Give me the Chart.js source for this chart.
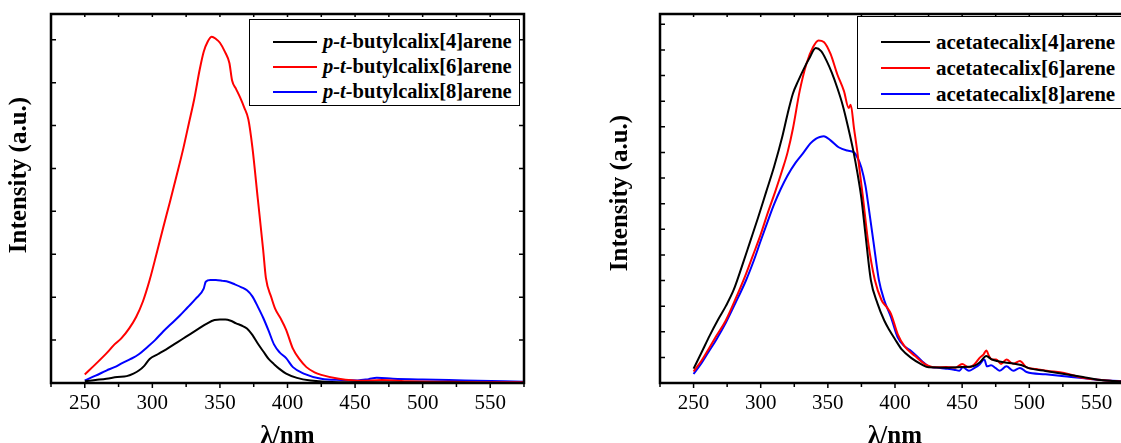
<!DOCTYPE html>
<html>
<head>
<meta charset="utf-8">
<title>Fluorescence spectra of calixarenes</title>
<script src="https://cdn.jsdelivr.net/npm/chart.js@4/dist/chart.umd.min.js"></script>
<style>
  html, body { margin: 0; padding: 0; background: #fff; width: 1121px; height: 443px; overflow: hidden; }
  .panel { position: absolute; top: 0; height: 443px; overflow: hidden; }
  #leftPanel { left: 0; width: 560px; }
  #rightPanel { left: 600px; width: 545px; }
  .legend {
    position: absolute; box-sizing: border-box; border: 1.5px solid #000; background: #fff;
    font-family: "Liberation Serif", "Times New Roman", serif; font-weight: bold; color: #000;
  }
  .legend .row { display: flex; align-items: center; white-space: nowrap; }
  .legend .swatch { display: inline-block; height: 2px; margin-right: 6px; }
  #leftLegend { left: 249px; top: 19px; width: 271px; height: 87px; padding: 9px 0 0 23px; font-size: 20.5px; line-height: 25px; }
  #rightLegend { left: 257px; top: 16px; width: 270px; height: 93px; padding: 12px 0 0 23px; font-size: 21px; line-height: 26px; }
  #leftLegend .swatch { width: 44px; }
  #rightLegend .swatch { width: 49px; }
</style>
</head>
<body>
<div class="panel" id="leftPanel">
  <canvas id="leftChart" width="560" height="443"></canvas>
  <div class="legend" id="leftLegend"></div>
</div>
<div class="panel" id="rightPanel">
  <canvas id="rightChart" width="545" height="443"></canvas>
  <div class="legend" id="rightLegend"></div>
</div>
<script>
// x axis (wavelength, nm) - shared by both panels
const xMin = 225, xMax = 575, xStep = 25;
// y axis has no labels, ticks every unit
const yStep = 1;
const leftYMax = 8.6;
const rightYMax = 14.4;

const seriesColors = ['#000000', '#ff0000', '#0000ff'];
const leftLabels = ['p-t-butylcalix[4]arene', 'p-t-butylcalix[6]arene', 'p-t-butylcalix[8]arene'];
const rightLabels = ['acetatecalix[4]arene', 'acetatecalix[6]arene', 'acetatecalix[8]arene'];

// left panel: p-t-butylcalix[n]arene
const butyl4Nm = [250, 258, 266, 274, 281, 286, 290, 294, 298, 304, 310, 316, 322, 328, 334, 340, 346, 350, 354, 358,
  362, 366, 370, 374, 378, 382, 386, 390, 394, 399, 407, 417, 438, 470, 520, 575];
const butyl4Int = [0.04, 0.07, 0.10, 0.14, 0.16, 0.22, 0.29, 0.40, 0.56, 0.67, 0.78, 0.90, 1.02, 1.14, 1.26, 1.38, 1.47, 1.48, 1.48, 1.45,
  1.39, 1.34, 1.27, 1.12, 0.92, 0.74, 0.56, 0.44, 0.33, 0.22, 0.12, 0.06, 0.02, 0.02, 0.01, 0.0];

const butyl6Nm = [250, 258, 266, 272, 277, 283, 288, 293, 298, 303, 308, 313, 318, 323, 327, 331, 335, 338, 341, 344,
  347, 350, 354, 357, 359, 362, 365, 368, 371, 374, 378, 382, 384, 388, 391, 395, 399, 404, 409, 414,
  420, 425, 438, 455, 470, 490, 520, 550, 575];
const butyl6Int = [0.20, 0.44, 0.69, 0.90, 1.04, 1.28, 1.54, 1.90, 2.40, 3.00, 3.62, 4.22, 4.84, 5.48, 6.05, 6.62, 7.30, 7.72, 7.96, 8.07,
  8.02, 7.93, 7.70, 7.46, 7.05, 6.85, 6.65, 6.42, 6.15, 5.50, 4.30, 3.10, 2.45, 2.00, 1.72, 1.50, 1.24, 0.80, 0.55, 0.37,
  0.25, 0.19, 0.10, 0.05, 0.07, 0.04, 0.03, 0.02, 0.02];

const butyl8Nm = [250, 258, 266, 272, 278, 284, 290, 296, 302, 308, 314, 320, 326, 332, 338, 339.5, 343, 347, 352, 356,
  361, 366, 370, 374, 378, 382, 386, 390, 394, 399, 404, 412, 425, 440, 452, 460, 466, 478, 500, 531, 575];
const butyl8Int = [0.06, 0.17, 0.29, 0.37, 0.47, 0.56, 0.67, 0.83, 1.00, 1.20, 1.38, 1.56, 1.76, 1.96, 2.20, 2.36, 2.40, 2.40, 2.38, 2.36,
  2.30, 2.23, 2.16, 2.02, 1.78, 1.52, 1.22, 0.90, 0.72, 0.58, 0.37, 0.22, 0.10, 0.07, 0.06, 0.09, 0.12, 0.10, 0.08, 0.06, 0.03];

// right panel: acetatecalix[n]arene
const acet4Nm = [250, 256, 262, 268, 274, 280, 286, 292, 298, 304, 310, 316, 320, 324, 328, 332, 336, 341, 345, 349,
  353, 357, 361, 365, 369, 372, 375, 378, 382, 387, 392, 396, 400, 405, 412, 420, 425, 440, 450, 458,
  463, 468, 472, 476, 482, 488, 494, 501, 512, 526, 540, 551, 563, 575];
const acet4Int = [0.56, 1.20, 1.85, 2.45, 3.00, 3.65, 4.55, 5.50, 6.45, 7.45, 8.45, 9.60, 10.50, 11.30, 11.80, 12.25, 12.65, 13.07, 12.95, 12.58,
  12.10, 11.52, 10.85, 10.00, 9.05, 8.20, 7.20, 5.80, 4.02, 3.10, 2.44, 2.05, 1.71, 1.31, 0.98, 0.72, 0.61, 0.60, 0.62, 0.65,
  0.80, 1.05, 0.92, 0.86, 0.80, 0.76, 0.70, 0.56, 0.47, 0.35, 0.23, 0.13, 0.08, 0.04];

const acet6Nm = [250, 256, 261, 267, 274, 281, 289, 294, 300, 305, 311, 316, 320, 324, 329, 334, 339, 343, 347, 352,
  357, 362, 365.5, 367, 369.5, 372, 376, 380, 385, 390, 394, 397, 402, 407, 415, 422, 430, 438, 445, 450,
  455, 459, 463, 466, 468, 470, 472, 475.5, 479, 483, 488, 493, 498, 505, 513, 526, 541, 555, 575];
const acet6Int = [0.45, 0.88, 1.31, 1.84, 2.44, 3.25, 4.25, 4.95, 5.80, 6.60, 7.50, 8.30, 9.00, 9.93, 11.39, 12.45, 13.11, 13.37, 13.31, 12.84,
  12.05, 11.39, 10.73, 10.86, 9.93, 9.00, 7.30, 5.50, 4.02, 3.23, 2.95, 2.70, 1.91, 1.44, 1.05, 0.75, 0.61, 0.62, 0.60, 0.74,
  0.61, 0.72, 0.98, 1.12, 1.27, 1.05, 0.92, 0.92, 0.74, 0.92, 0.75, 0.86, 0.61, 0.55, 0.48, 0.39, 0.19, 0.11, 0.04];

const acet8Nm = [250, 256, 261, 267, 274, 281, 289, 295, 300, 305, 310, 315, 320, 326, 332, 337, 341, 344, 347, 352,
  358, 364.5, 369.5, 372, 375, 378, 380, 384, 388, 392, 397, 402, 407, 412, 420, 425, 431, 438, 444, 448,
  450.5, 455, 459, 463, 466.5, 468.5, 471.5, 475, 478, 483, 488, 493, 498, 512, 526, 551, 575];
const acet8Int = [0.35, 0.78, 1.20, 1.70, 2.35, 3.10, 4.00, 4.80, 5.55, 6.28, 6.98, 7.58, 8.10, 8.60, 9.00, 9.35, 9.53, 9.60, 9.63, 9.47,
  9.20, 9.07, 9.00, 8.80, 8.40, 7.70, 7.00, 5.50, 4.02, 3.23, 2.57, 1.78, 1.44, 1.25, 0.86, 0.65, 0.60, 0.56, 0.52, 0.48,
  0.61, 0.48, 0.58, 0.72, 0.92, 0.65, 0.69, 0.58, 0.48, 0.65, 0.48, 0.59, 0.43, 0.34, 0.26, 0.13, 0.05];

const serif = '"Liberation Serif", "Times New Roman", serif';

function toPoints(xs, ys) {
  return xs.map((x, i) => ({ x: x, y: ys[i] }));
}

// box frame, inner/outer tick marks and the rotated y title
const framePlugin = {
  id: 'frame',
  afterDatasetsDraw(chart, args, opts) {
    const { ctx, chartArea: a, scales: { x, y } } = chart;
    ctx.save();
    ctx.strokeStyle = '#000';
    ctx.lineWidth = 1.5;
    ctx.beginPath();
    for (let v = xMin; v <= xMax; v += xStep) {
      const px = x.getPixelForValue(v);
      ctx.moveTo(px, a.bottom);
      ctx.lineTo(px, a.bottom + (v % 50 === 0 ? 5 : 4));
      ctx.moveTo(px, a.top);
      ctx.lineTo(px, a.top + 3);
    }
    for (let v = yStep; v <= opts.yMax; v += yStep) {
      const py = y.getPixelForValue(v);
      ctx.moveTo(a.left, py);
      ctx.lineTo(a.left + 5, py);
      ctx.moveTo(a.right, py);
      ctx.lineTo(a.right - 5, py);
    }
    ctx.stroke();
    ctx.lineWidth = 2.5;
    ctx.strokeRect(a.left, a.top, a.right - a.left, a.bottom - a.top);

    ctx.translate(opts.titleX, opts.titleY);
    ctx.rotate(-Math.PI / 2);
    ctx.fillStyle = '#000';
    ctx.font = 'bold 25px ' + serif;
    ctx.textAlign = 'center';
    ctx.textBaseline = 'middle';
    ctx.fillText(opts.title, 0, 0);
    ctx.restore();
  }
};

function makeChart(canvasId, labels, xsList, ysList, yMax, pad, titlePos) {
  return new Chart(document.getElementById(canvasId), {
    type: 'line',
    data: {
      datasets: labels.map((label, i) => ({
        label: label,
        data: toPoints(xsList[i], ysList[i]),
        borderColor: seriesColors[i],
        backgroundColor: seriesColors[i],
        borderWidth: 2,
        pointRadius: 0,
        cubicInterpolationMode: 'monotone',
        fill: false
      }))
    },
    options: {
      responsive: false,
      animation: false,
      devicePixelRatio: 1,
      layout: { padding: pad },
      plugins: {
        legend: { display: false },
        tooltip: { enabled: false },
        frame: { yMax: yMax, title: 'Intensity (a.u.)', titleX: titlePos[0], titleY: titlePos[1] }
      },
      scales: {
        x: {
          type: 'linear',
          min: xMin,
          max: xMax,
          grid: { display: false, drawTicks: false },
          border: { display: false },
          ticks: {
            stepSize: xStep,
            autoSkip: false,
            maxRotation: 0,
            padding: 8,
            color: '#000',
            font: { family: serif, size: 21 },
            callback: v => (Math.round(v) % 50 === 0 ? String(Math.round(v)) : '')
          },
          title: {
            display: true,
            text: 'λ/nm',
            color: '#000',
            padding: 0,
            font: { family: serif, size: 25, weight: 'bold', lineHeight: 0.95 }
          }
        },
        y: { display: false, min: 0, max: yMax }
      }
    },
    plugins: [framePlugin]
  });
}

function buildLegend(elId, labels) {
  let html = '';
  labels.forEach((label, i) => {
    const text = label.replace(/^p-t-/, '<i>p-t-</i>');
    html += `<div class="row"><span class="swatch" style="background:${seriesColors[i]}"></span>${text}</div>`;
  });
  document.getElementById(elId).innerHTML = html;
}

makeChart('leftChart', leftLabels,
  [butyl4Nm, butyl6Nm, butyl8Nm], [butyl4Int, butyl6Int, butyl8Int],
  leftYMax, { left: 51, right: 36, top: 14, bottom: -4.95 }, [20, 175]);
makeChart('rightChart', rightLabels,
  [acet4Nm, acet6Nm, acet8Nm], [acet4Int, acet6Int, acet8Int],
  rightYMax, { left: 60, right: 15, top: 14, bottom: -4.95 }, [21, 193]);

buildLegend('leftLegend', leftLabels);
buildLegend('rightLegend', rightLabels);
</script>
</body>
</html>
